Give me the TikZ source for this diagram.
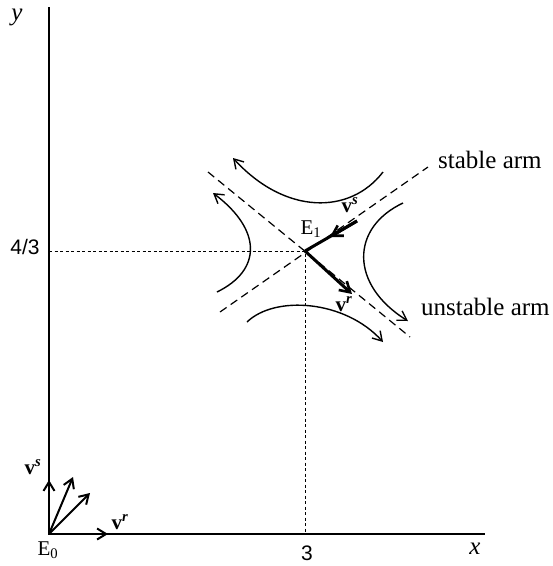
\documentclass[tikz,border=0pt]{standalone}
\usepackage{fontspec}
\setmainfont{Liberation Serif}
\newfontfamily\lsans{Liberation Sans}
\usetikzlibrary{arrows.meta,calc}
\tikzset{
  axisline/.style={line width=1.8pt},
  flow/.style={line width=1.4pt,-{Straight Barb[length=9pt,width=11pt,line width=1.4pt]}},
  armline/.style={line width=1.2pt,dash pattern=on 8pt off 5pt},
  guide/.style={line width=0.8pt,dash pattern=on 3pt off 2.5pt},
  vec/.style={line width=2pt,-{Straight Barb[length=9pt,width=11pt,line width=2pt]}},
  bigvec/.style={line width=3pt},
  bighead/.style={line width=3pt,-{Straight Barb[length=10pt,width=12pt,line width=2.6pt]}},
  lbl/.style={inner sep=0pt,font=\fontsize{25}{30}\selectfont},
  numlbl/.style={inner sep=0pt,font=\lsans\fontsize{21}{25}\selectfont},
  elbl/.style={inner sep=0pt,font=\fontsize{21}{25}\selectfont},
  vlbl/.style={inner sep=0pt,font=\bfseries\fontsize{21}{25}\selectfont},
}
\begin{document}
\begin{tikzpicture}[x=1pt,y=-1pt]
\useasboundingbox (0,0) rectangle (553,566);
% coordinates
\coordinate (O) at (49,534);
\coordinate (ytop) at (49,7);
\coordinate (xend) at (485,534);
\coordinate (E1) at (305,251);
\coordinate (yq) at (49,251);
\coordinate (xq) at (305,534);
\coordinate (sA) at (220,312);
\coordinate (sB) at (428,167);
\coordinate (uA) at (208,172);
\coordinate (uB) at (410,337);
% axes
\draw[axisline] (ytop) -- (O) -- (xend);
% guides
\draw[guide] (yq) -- (E1) -- (xq);
% arms
\draw[armline] (sA) -- (sB);
\draw[armline] (uA) -- (uB);
% flow curves
\coordinate (t1) at (383,172); \coordinate (t2) at (233,158);
\draw[flow] (t1) .. controls (350,215) and (285,215) .. (t2);
\coordinate (l1) at (217,292); \coordinate (l2) at (213,193);
\draw[flow] (l1) .. controls (262,270) and (262,230) .. (l2);
\coordinate (r1) at (403,203); \coordinate (r2) at (408,321);
\draw[flow] (r1) .. controls (350,228) and (350,285) .. (r2);
\coordinate (b1) at (247,322); \coordinate (b2) at (383,342);
\draw[flow] (b1) .. controls (275,295) and (345,300) .. (b2);
% eigenvectors at E1
\coordinate (vsT) at (357,221);
\coordinate (vsM) at (330,237);
\coordinate (vrT) at (352,294);
\draw[bigvec] (vsT) -- (E1);
\draw[bighead] (vsT) -- (vsM);
\draw[bighead] (E1) -- (vrT);
% vectors at E0
\coordinate (a1) at (49,480);
\coordinate (a2) at (108,534);
\coordinate (a3) at (73,477);
\coordinate (a4) at (90,493);
\draw[vec] (O) -- (a1);
\draw[vec] (O) -- (a2);
\draw[vec] (O) -- (a3);
\draw[vec] (O) -- (a4);
% labels
\node[lbl,font=\itshape\fontsize{25}{30}\selectfont] (ylab) at (17,17) {y};
\node[lbl,font=\itshape\fontsize{25}{30}\selectfont] (xlab) at (475,549) {x};
\node[numlbl] (q43) at (25,247) {4/3};
\node[numlbl] (q3) at (307,553) {3};
\node[elbl] (E1lab) at (311,229) {E\textsubscript{1}};
\node[elbl] (E0lab) at (48,550) {E\textsubscript{0}};
\node[vlbl] (vs1) at (350,205) {v\textsuperscript{\textit{s}}};
\node[vlbl] (vr1) at (344,304) {v\textsuperscript{\textit{r}}};
\node[vlbl] (vs0) at (33,467) {v\textsuperscript{\textit{s}}};
\node[vlbl] (vr0) at (120,522) {v\textsuperscript{\textit{r}}};
\node[lbl,anchor=west] (stab) at (438,160) {stable arm};
\node[lbl,anchor=west] (unst) at (421,307) {unstable arm};
\end{tikzpicture}
\end{document}
